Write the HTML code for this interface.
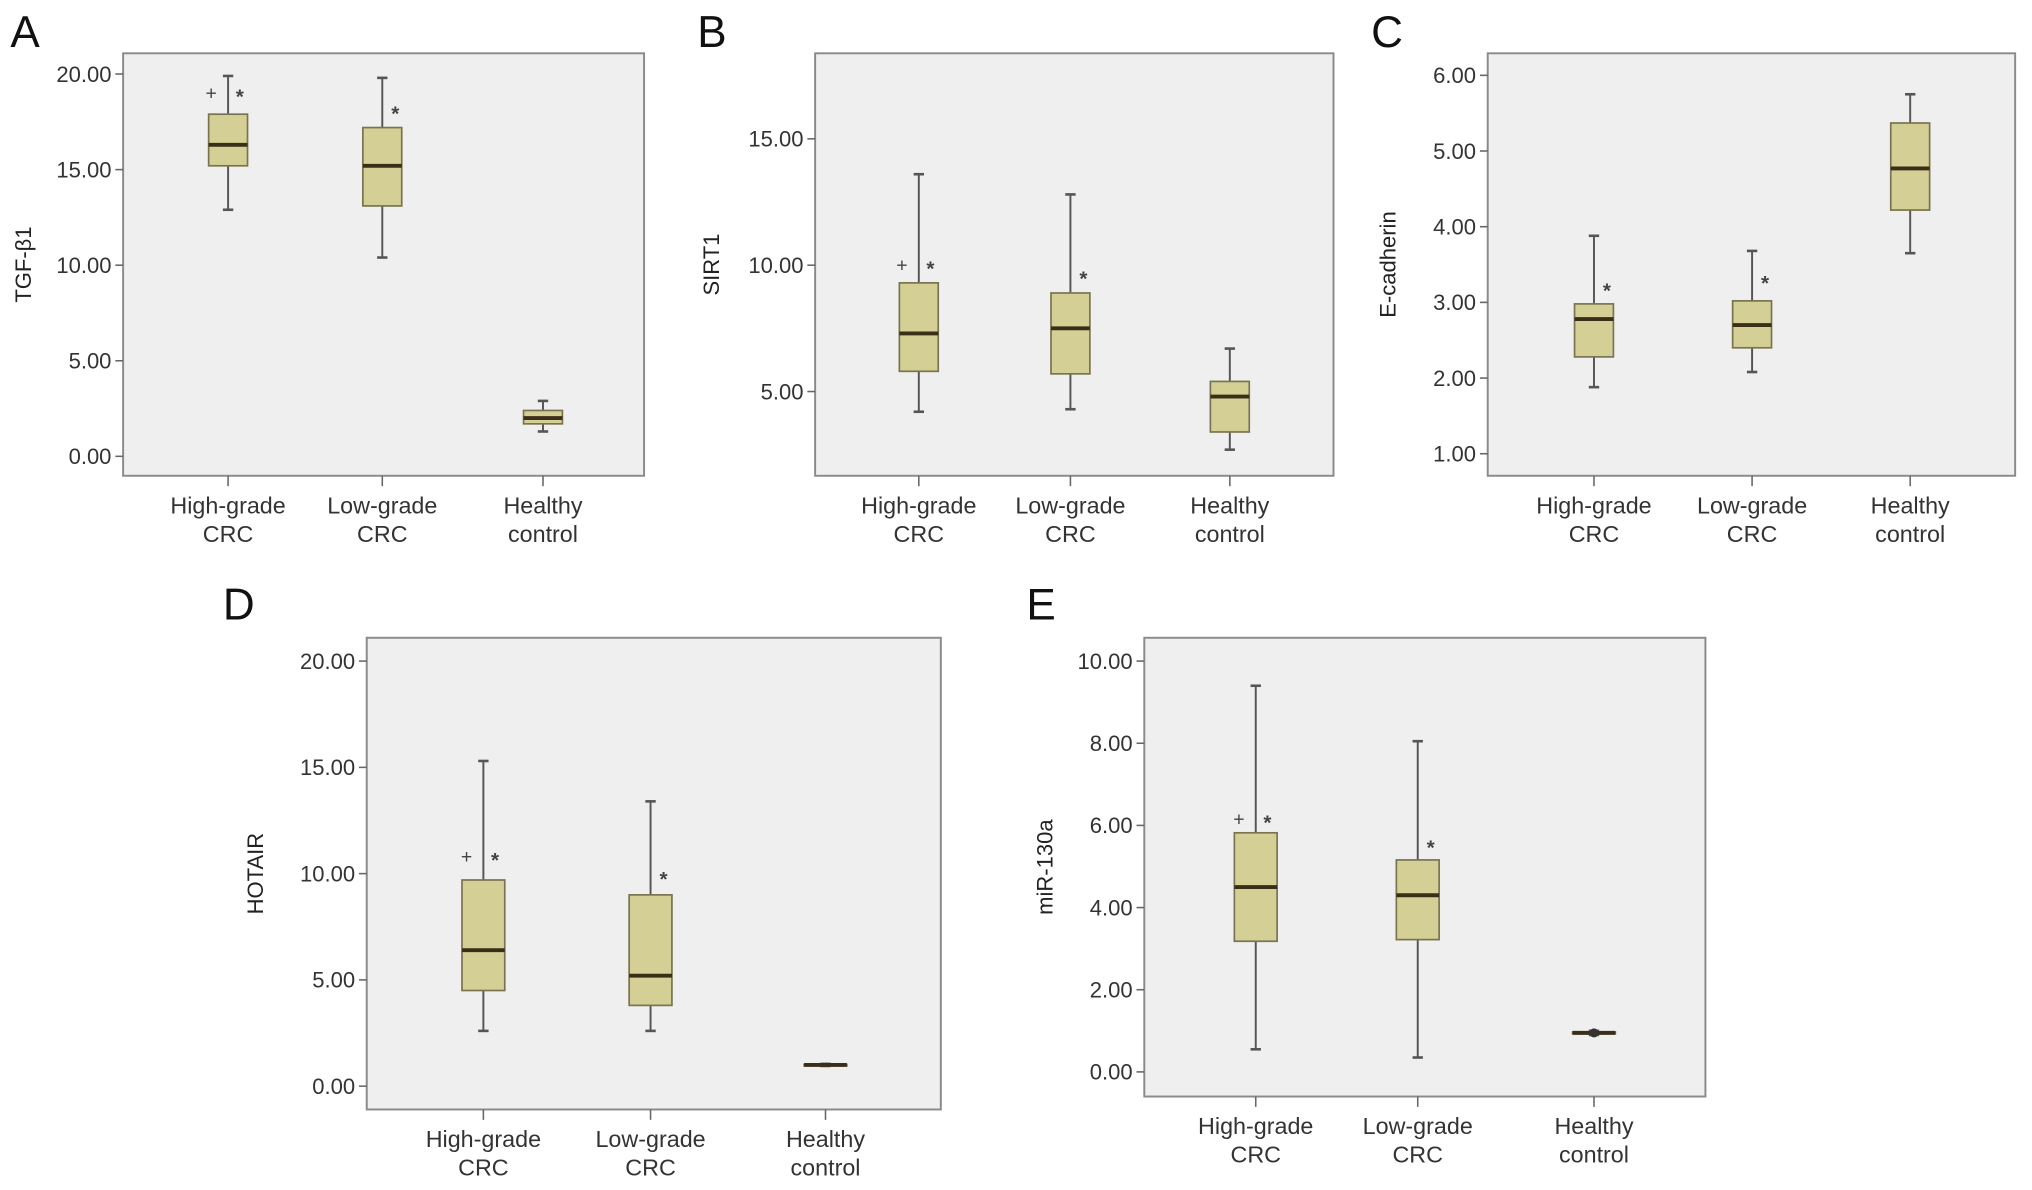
<!DOCTYPE html>
<html><head><meta charset="utf-8"><style>
html,body{margin:0;padding:0;background:#fff;}
svg{display:block;font-family:"Liberation Sans",Arial,sans-serif;}
</style></head><body>
<svg id="fig" width="2032" height="1190" viewBox="0 0 1568 918" xmlns="http://www.w3.org/2000/svg"></svg>
<script>
// Shared categories
const categories = ["High-grade CRC","Low-grade CRC","Healthy control"];
// Panel A - TGF-β1
const aMin=[12.9,10.4,1.3], aQ1=[15.2,13.1,1.7], aMed=[16.3,15.2,2.0], aQ3=[17.9,17.2,2.4], aMax=[19.9,19.8,2.9];
const aMarks=[19.0,18.1,null];
const aTicks=[0,5,10,15,20];
// Panel B - SIRT1
const bMin=[4.2,4.3,2.7], bQ1=[5.8,5.7,3.4], bMed=[7.3,7.5,4.8], bQ3=[9.3,8.9,5.4], bMax=[13.6,12.8,6.7];
const bMarks=[10.0,9.6,null];
const bTicks=[5,10,15];
// Panel C - E-cadherin
const cMin=[1.88,2.08,3.65], cQ1=[2.28,2.4,4.22], cMed=[2.78,2.7,4.77], cQ3=[2.98,3.02,5.37], cMax=[3.88,3.68,5.75];
const cMarks=[3.2,3.3,null];
const cTicks=[1,2,3,4,5,6];
// Panel D - HOTAIR
const dMin=[2.6,2.6,0.95], dQ1=[4.5,3.8,0.98], dMed=[6.4,5.2,1.0], dQ3=[9.7,9.0,1.02], dMax=[15.3,13.4,1.05];
const dMarks=[10.8,9.9,null];
const dTicks=[0,5,10,15,20];
// Panel E - miR-130a
const eMin=[0.55,0.35,0.9], eQ1=[3.18,3.22,0.93], eMed=[4.5,4.3,0.95], eQ3=[5.82,5.16,0.97], eMax=[9.4,8.05,1.0];
const eMarks=[6.15,5.55,null];
const eTicks=[0,2,4,6,8,10];

const NS="http://www.w3.org/2000/svg";
const svg=document.getElementById('fig');
function mk(tag,attrs,parent){const e=document.createElementNS(NS,tag);for(const k in attrs)e.setAttribute(k,attrs[k]);(parent||svg).appendChild(e);return e;}

function panel(p){
  const g=mk('g',{});
  
  
  const y=v=>p.y0 - (v-p.v0)*p.k;
  const r=mk('rect',{x:p.x1,y:p.top,width:p.x2-p.x1,height:p.bot-p.top,fill:'#efefef',stroke:'#8a8a8a','stroke-width':1.5},g);
  
  
  const L=mk('text',{x:p.lx,y:p.ly,'font-size':34,fill:'#111'},g);L.textContent=p.letter;
  
  
  const T=mk('text',{transform:`translate(${p.tx},${(p.top+p.bot)/2}) rotate(-90)`,'text-anchor':'middle','font-size':17,fill:'#222'},g);T.textContent=p.title;
  
  
  p.ticks.forEach(t=>{
    const yy=y(t);
    mk('line',{x1:p.x1-6,x2:p.x1,y1:yy,y2:yy,stroke:'#666','stroke-width':1.2},g);
    const tl=mk('text',{x:p.x1-9,y:yy+6,'text-anchor':'end','font-size':17,fill:'#333'},g);tl.textContent=t.toFixed(2);
    
    
  });
  categories.forEach((c,i)=>{
    const cx=p.cx[i];
    mk('line',{x1:cx,x2:cx,y1:p.bot,y2:p.bot+8,stroke:'#666','stroke-width':1.2},g);
    const parts=c.split(' ');
    const w1=c.startsWith('Healthy')?'Healthy':parts[0], w2=c.startsWith('Healthy')?'control':'CRC';
    const t1=mk('text',{x:cx,y:p.bot+29,'text-anchor':'middle','font-size':18,fill:'#333'},g);t1.textContent=w1;
    
    
    const t2=mk('text',{x:cx,y:p.bot+51,'text-anchor':'middle','font-size':18,fill:'#333'},g);t2.textContent=w2;
    
    
    const bw=p.bw, hw=bw/2;
    const bg=mk('g',{},g);
    
    
    mk('line',{x1:cx,x2:cx,y1:y(p.mx[i]),y2:y(p.mn[i]),stroke:'#555','stroke-width':1.5},bg);
    mk('line',{x1:cx-4,x2:cx+4,y1:y(p.mx[i]),y2:y(p.mx[i]),stroke:'#555','stroke-width':2},bg);
    mk('line',{x1:cx-4,x2:cx+4,y1:y(p.mn[i]),y2:y(p.mn[i]),stroke:'#555','stroke-width':2},bg);
    mk('rect',{x:cx-hw,y:y(p.q3[i]),width:bw,height:Math.max(1,y(p.q1[i])-y(p.q3[i])),fill:'#d4cf95',stroke:'#77744f','stroke-width':1.3},bg);
    mk('line',{x1:cx-hw,x2:cx+hw,y1:y(p.md[i]),y2:y(p.md[i]),stroke:'#3a2e18','stroke-width':3},bg);
    if(p.marks[i]!=null){
      const my=y(p.marks[i]);
      if(i===0 && p.plus){const pl=mk('text',{x:cx-13,y:my+5,'text-anchor':'middle','font-size':15,fill:'#444'},bg);pl.textContent='+';}
      const st=mk('text',{x:cx+(i===0&&p.plus?9:10),y:my+8,'text-anchor':'middle','font-size':16,'font-weight':'bold',fill:'#444'},bg);st.textContent='*';
    }
    if(p.dot && i===2){mk('circle',{cx:cx,cy:y(p.md[i]),r:3.5,fill:'#333'},bg);}
  });
}
panel({letter:'A',title:'TGF-β1',lx:8,ly:36,tx:24,x1:95,x2:497,top:41,bot:367,y0:352,v0:0,k:14.75,cx:[176,295,419],bw:30,plus:true,
  mn:aMin,q1:aQ1,md:aMed,q3:aQ3,mx:aMax,marks:aMarks,ticks:aTicks});
panel({letter:'B',title:'SIRT1',lx:538,ly:36,tx:555,x1:629,x2:1029,top:41,bot:367,y0:302,v0:5,k:19.5,cx:[709,826,949],bw:30,plus:true,
  mn:bMin,q1:bQ1,md:bMed,q3:bQ3,mx:bMax,marks:bMarks,ticks:bTicks});
panel({letter:'C',title:'E-cadherin',lx:1058,ly:36,tx:1077,x1:1148,x2:1555,top:41,bot:367,y0:350,v0:1,k:58.4,cx:[1230,1352,1474],bw:30,plus:false,
  mn:cMin,q1:cQ1,md:cMed,q3:cQ3,mx:cMax,marks:cMarks,ticks:cTicks});
panel({letter:'D',title:'HOTAIR',lx:172,ly:478,tx:203,x1:283,x2:726,top:492,bot:856,y0:838,v0:0,k:16.4,cx:[373,502,637],bw:33,plus:true,
  mn:dMin,q1:dQ1,md:dMed,q3:dQ3,mx:dMax,marks:dMarks,ticks:dTicks});
panel({letter:'E',title:'miR-130a',lx:792,ly:478,tx:812,x1:883,x2:1316,top:492,bot:846,y0:827,v0:0,k:31.7,cx:[969,1094,1230],bw:33,dot:true,plus:true,
  mn:eMin,q1:eQ1,md:eMed,q3:eQ3,mx:eMax,marks:eMarks,ticks:eTicks});
</script>
</body></html>
